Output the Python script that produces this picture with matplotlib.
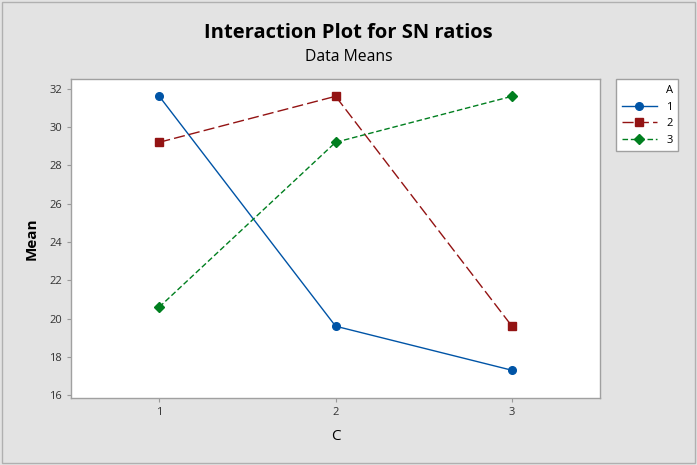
import matplotlib.pyplot as plt

# 交互作用图数据
levels_c = [1, 2, 3]
mean_a1 = [31.6, 19.6, 17.3]
mean_a2 = [29.2, 31.6, 19.6]
mean_a3 = [20.6, 29.2, 31.6]
yticks = [16, 18, 20, 22, 24, 26, 28, 30, 32]

plt.rcParams['font.family'] = ['Open Sans', 'DejaVu Sans']

fig = plt.figure(figsize=(6.97, 4.65), dpi=100, facecolor='#e3e3e3')
ax = fig.add_axes([0.102, 0.144, 0.759, 0.686])

ax.plot(levels_c, mean_a1, color='#0054a6', lw=1, marker='o', ms=5.5, label='1')
ax.plot(levels_c, mean_a2, color='#931313', lw=1, ls=(0, (8, 3)), marker='s', ms=5.5, label='2')
ax.plot(levels_c, mean_a3, color='#007f1f', lw=1, ls=(0, (4, 2)), marker='D', ms=5, label='3')

ax.set_xlim(0.5, 3.5)
ax.set_ylim(15.85, 32.5)
ax.set_xticks(levels_c)
ax.set_yticks(yticks)
ax.tick_params(labelsize=8, colors='#333333', length=3, width=0.8)
ax.tick_params(axis='both', color='#999999')
for s in ax.spines.values():
    s.set_color('#a0a0a0')
    s.set_linewidth(1)

ax.set_xlabel('C', fontsize=11, labelpad=8)
ax.set_ylabel('Mean', fontsize=11, fontweight='bold', labelpad=8)

fig.text(0.5, 0.928, 'Interaction Plot for SN ratios', ha='center', va='center',
         fontsize=14.5, fontweight='bold')
fig.text(0.5, 0.877, 'Data Means', ha='center', va='center', fontsize=11.3)

leg = fig.legend(loc='upper left', bbox_to_anchor=(0.876, 0.841), title='A',
                 fontsize=8, title_fontsize=8, frameon=True, fancybox=False, framealpha=1,
                 handlelength=3.2, borderpad=0.5, labelspacing=0.5, handletextpad=0.8,
                 alignment='right')
leg.get_frame().set_edgecolor('#a0a0a0')
leg.get_frame().set_linewidth(1)

# 外框
fig.patches.append(plt.Rectangle((0.003, 0.004), 0.994, 0.992, transform=fig.transFigure,
                                 fill=False, edgecolor='#b0b0b0', lw=1))

fig.savefig('out.png', dpi=100, facecolor=fig.get_facecolor())
